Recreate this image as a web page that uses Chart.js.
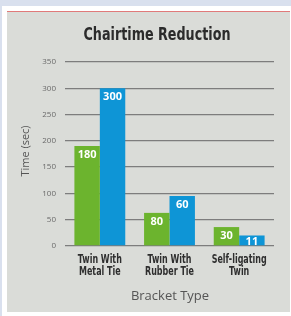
<!DOCTYPE html>
<html>
<head>
<meta charset="utf-8">
<script src="https://cdn.jsdelivr.net/npm/chart.js@4.4.0/dist/chart.umd.min.js"></script>
<style>
  html, body { margin: 0; padding: 0; width: 291px; height: 316px; overflow: hidden; background: #ffffff; }
  #top { position: absolute; left: 0; top: 0; width: 291px; height: 6px; background: #d9e0ee; }
  #left { position: absolute; left: 0; top: 0; width: 2px; height: 316px; background: #d9e0ee; }
  #panel { position: absolute; left: 7px; top: 11px; width: 283px; height: 301px; background: #dadcd8; border-top: 1.5px solid #e07a7a; box-sizing: border-box; }
  #c { position: absolute; left: 0; top: 0; }
</style>
</head>
<body>
<div id="top"></div>
<div id="left"></div>
<div id="panel"></div>
<canvas id="c" width="291" height="316"></canvas>
<script>
const categories = [["Twin With", "Metal Tie"], ["Twin With", "Rubber Tie"], ["Self-ligating", "Twin"]];
const greenValues = [190, 63, 36];
const blueValues = [300, 95, 20];
const greenLabels = ["180", "80", "30"];
const blueLabels = ["300", "60", "11"];
const yTicks = [0, 50, 100, 150, 200, 250, 300, 350];
const chartTitle = "Chairtime Reduction";
const xTitle = "Bracket Type";
const yTitle = "Time (sec)";

const condensed = "'Liberation Sans Narrow', 'DejaVu Sans Condensed', 'Roboto', sans-serif";
const humanist = "'Open Sans', 'Noto Sans', sans-serif";

const labelPlugin = {
  id: 'customText',
  afterDatasetsDraw(chart) {
    const ctx = chart.ctx;
    const labelSets = [greenLabels, blueLabels];
    ctx.save();
    ctx.fillStyle = '#ffffff';
    ctx.font = "bold 11px " + humanist;
    ctx.textAlign = 'center';
    ctx.textBaseline = 'middle';
    chart.data.datasets.forEach((ds, di) => {
      const meta = chart.getDatasetMeta(di);
      meta.data.forEach((bar, i) => {
        const top = bar.y, bottom = bar.base;
        const cy = Math.min(top + 9, (top + bottom) / 2 + 1);
        ctx.fillText(labelSets[di][i], bar.x, cy);
      });
    });
    ctx.restore();
  },
  afterDraw(chart) {
    const ctx = chart.ctx;
    ctx.save();
    ctx.textAlign = 'center';
    ctx.textBaseline = 'middle';
    // title
    ctx.fillStyle = '#2b2b2b';
    ctx.font = "bold 17px " + condensed;
    const w = ctx.measureText(chartTitle).width;
    const sx = Math.min(1, 147 / w);
    ctx.save();
    ctx.translate(157, 36);
    ctx.scale(sx, 1);
    ctx.fillText(chartTitle, 0, 0);
    ctx.restore();
    // category labels (condensed look)
    ctx.fillStyle = '#2e2e2e';
    ctx.font = "bold 12px " + condensed;
    const wRef = ctx.measureText("Self-ligating").width;
    const cx = Math.min(1, 55 / wRef);
    const xs = chart.scales.x;
    categories.forEach((lines, i) => {
      const px = xs.getPixelForValue(i);
      lines.forEach((t, li) => {
        ctx.save();
        ctx.translate(px, 260 + li * 12);
        ctx.scale(cx, 1);
        ctx.fillText(t, 0, 0);
        ctx.restore();
      });
    });
    // axis titles
    ctx.fillStyle = '#555555';
    ctx.font = "13px " + humanist;
    ctx.fillText(xTitle, 170, 296);
    ctx.translate(26, 151);
    ctx.rotate(-Math.PI / 2);
    ctx.font = "11px " + humanist;
    ctx.fillText(yTitle, 0, 0);
    ctx.restore();
  }
};

new Chart(document.getElementById('c'), {
  type: 'bar',
  data: {
    labels: categories,
    datasets: [
      { data: greenValues, backgroundColor: '#6cb42e', borderWidth: 0 },
      { data: blueValues, backgroundColor: '#0e95d6', borderWidth: 0 }
    ]
  },
  options: {
    responsive: false,
    animation: false,
    devicePixelRatio: 1,
    layout: { padding: { left: 7, right: 17, top: 62, bottom: 0 } },
    plugins: { legend: { display: false }, title: { display: false }, tooltip: { enabled: false } },
    datasets: { bar: { categoryPercentage: 0.73, barPercentage: 1.0 } },
    scales: {
      x: {
        grid: { display: false, drawTicks: false },
        border: { display: false },
        ticks: { display: false },
        afterFit(scale) { scale.height = 70; }
      },
      y: {
        min: 0, max: 350,
        afterBuildTicks(scale) { scale.ticks = yTicks.map(v => ({ value: v })); },
        grid: { color: '#7d7d7d', lineWidth: 1.3, drawTicks: false },
        border: { display: false },
        ticks: { color: '#6a6a6a', font: { family: humanist, size: 8 }, padding: 9 },
        afterFit(scale) { scale.width = 58; }
      }
    }
  },
  plugins: [labelPlugin]
});
</script>
</body>
</html>
